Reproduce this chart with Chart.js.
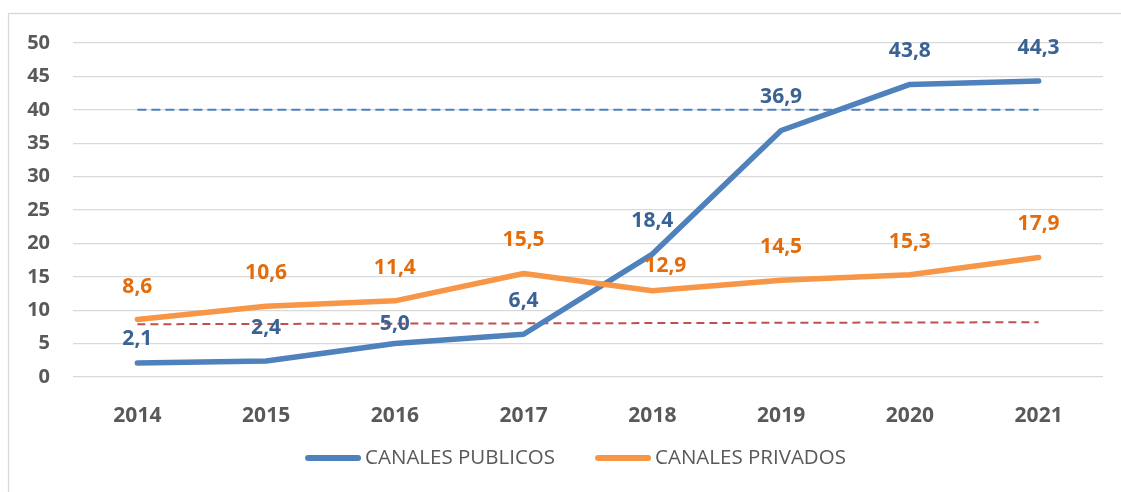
<!DOCTYPE html>
<html>
<head>
<meta charset="utf-8">
<script src="https://cdn.jsdelivr.net/npm/chart.js@4/dist/chart.umd.min.js"></script>
<style>
  html, body { margin: 0; padding: 0; background: #ffffff; }
  #wrap { width: 1121px; height: 492px; position: relative; }
</style>
</head>
<body>
<div id="wrap"><canvas id="grafico"></canvas></div>
<script>
// datos del grafico
const anios = ['2014', '2015', '2016', '2017', '2018', '2019', '2020', '2021'];
const canalesPublicos = [2.1, 2.4, 5.0, 6.4, 18.4, 36.9, 43.8, 44.3];
const canalesPrivados = [8.6, 10.6, 11.4, 15.5, 12.9, 14.5, 15.3, 17.9];
const referenciaPublicos = [40, 40, 40, 40, 40, 40, 40, 40];
const referenciaPrivados = [7.9, null, null, null, null, null, null, 8.2];
const ejeY = { min: 0, max: 50, paso: 5 };

const fuente = '"Open Sans", Lato, sans-serif';
const gris = '#595959';
const azul = '#4F81BD';
const naranja = '#F79646';

// borde del area del grafico (estilo Excel)
const bordePlugin = {
    id: 'borde',
    beforeDraw(chart) {
        const ctx = chart.ctx;
        ctx.save();
        ctx.strokeStyle = '#D9D9D9';
        ctx.lineWidth = 1.3;
        ctx.beginPath();
        ctx.moveTo(8.5, chart.height);
        ctx.lineTo(8.5, 13.5);
        ctx.lineTo(chart.width, 13.5);
        ctx.stroke();
        ctx.restore();
    }
};

// etiquetas de datos sobre cada punto
const etiquetasPlugin = {
    id: 'etiquetas',
    afterDatasetsDraw(chart, args, opts) {
        const ctx = chart.ctx;
        ctx.save();
        ctx.font = 'bold 21px ' + fuente;
        ctx.textAlign = 'center';
        ctx.textBaseline = 'middle';
        opts.series.forEach(s => {
            const meta = chart.getDatasetMeta(s.index);
            const valores = chart.data.datasets[s.index].data;
            ctx.fillStyle = s.color;
            meta.data.forEach((pt, i) => {
                const ajuste = (s.ajustes && s.ajustes[i]) || [0, 0];
                const texto = valores[i].toFixed(1).replace('.', ',');
                ctx.fillText(texto, pt.x + ajuste[0], pt.y - 33 + ajuste[1]);
            });
        });
        ctx.restore();
    }
};

// leyenda abajo, dibujada a mano
const leyendaPlugin = {
    id: 'leyendaAbajo',
    afterDraw(chart, args, opts) {
        const ctx = chart.ctx;
        const items = opts.items.map(i => chart.data.datasets[i]);
        ctx.save();
        ctx.font = '20.5px ' + fuente;
        const anchos = items.map(d => ctx.measureText(d.label).width);
        let total = 0;
        items.forEach((d, k) => { total += opts.linea + opts.hueco + anchos[k]; });
        total += opts.separacion * (items.length - 1);
        let x = opts.centro - total / 2;
        const y = opts.y;
        items.forEach((d, k) => {
            ctx.strokeStyle = d.borderColor;
            ctx.lineWidth = 6;
            ctx.lineCap = 'round';
            ctx.beginPath();
            ctx.moveTo(x + 3, y);
            ctx.lineTo(x + opts.linea - 3, y);
            ctx.stroke();
            x += opts.linea + opts.hueco;
            ctx.fillStyle = gris;
            ctx.textBaseline = 'middle';
            ctx.textAlign = 'left';
            ctx.fillText(d.label, x, y);
            x += anchos[k] + opts.separacion;
        });
        ctx.restore();
    }
};

const ctx = document.getElementById('grafico').getContext('2d');
new Chart(ctx, {
    type: 'line',
    data: {
        labels: anios,
        datasets: [{
            label: 'CANALES PUBLICOS',
            data: canalesPublicos,
            borderColor: azul,
            backgroundColor: azul,
            borderWidth: 5.5,
            borderCapStyle: 'round',
            borderJoinStyle: 'round',
            pointRadius: 0,
            order: 2
        },
        {
            label: 'CANALES PRIVADOS',
            data: canalesPrivados,
            borderColor: naranja,
            backgroundColor: naranja,
            borderWidth: 5.5,
            borderCapStyle: 'round',
            borderJoinStyle: 'round',
            pointRadius: 0,
            order: 1
        },
        {
            label: 'ref publicos',
            data: referenciaPublicos,
            borderColor: azul,
            borderWidth: 2,
            borderDash: [9, 5],
            pointRadius: 0,
            order: 3
        },
        {
            label: 'ref privados',
            data: referenciaPrivados,
            borderColor: '#C0504D',
            borderWidth: 2,
            borderDash: [8, 5],
            spanGaps: true,
            pointRadius: 0,
            order: 4
        }]
    },
    options: {
        responsive: true,
        maintainAspectRatio: false,
        animation: false,
        layout: { padding: { top: 43, right: 18, bottom: 70, left: 0 } },
        scales: {
            x: {
                offset: true,
                grid: { display: false },
                border: { display: false },
                ticks: {
                    color: gris,
                    font: { family: fuente, size: 21, weight: 'bold' },
                    padding: 18
                },
                afterFit(scale) { scale.height = 45; }
            },
            y: {
                min: ejeY.min,
                max: ejeY.max,
                grid: { color: '#D9D9D9', lineWidth: 1.3, drawTicks: false },
                border: { display: false },
                ticks: {
                    stepSize: ejeY.paso,
                    color: gris,
                    font: { family: fuente, size: 20, weight: 'bold' },
                    padding: 23
                },
                afterFit(scale) { scale.width = 73; }
            }
        },
        plugins: {
            legend: { display: false },
            tooltip: { enabled: false },
            etiquetas: {
                series: [
                    { index: 0, color: '#3B6294', ajustes: { 0: [0, 9], 2: [0, 13] } },
                    { index: 1, color: '#E46C0A', ajustes: { 4: [13, 8] } }
                ]
            },
            leyendaAbajo: { items: [0, 1], centro: 575.5, y: 458, linea: 56, hueco: 4, separacion: 40 }
        }
    },
    plugins: [bordePlugin, etiquetasPlugin, leyendaPlugin]
});
</script>
</body>
</html>
